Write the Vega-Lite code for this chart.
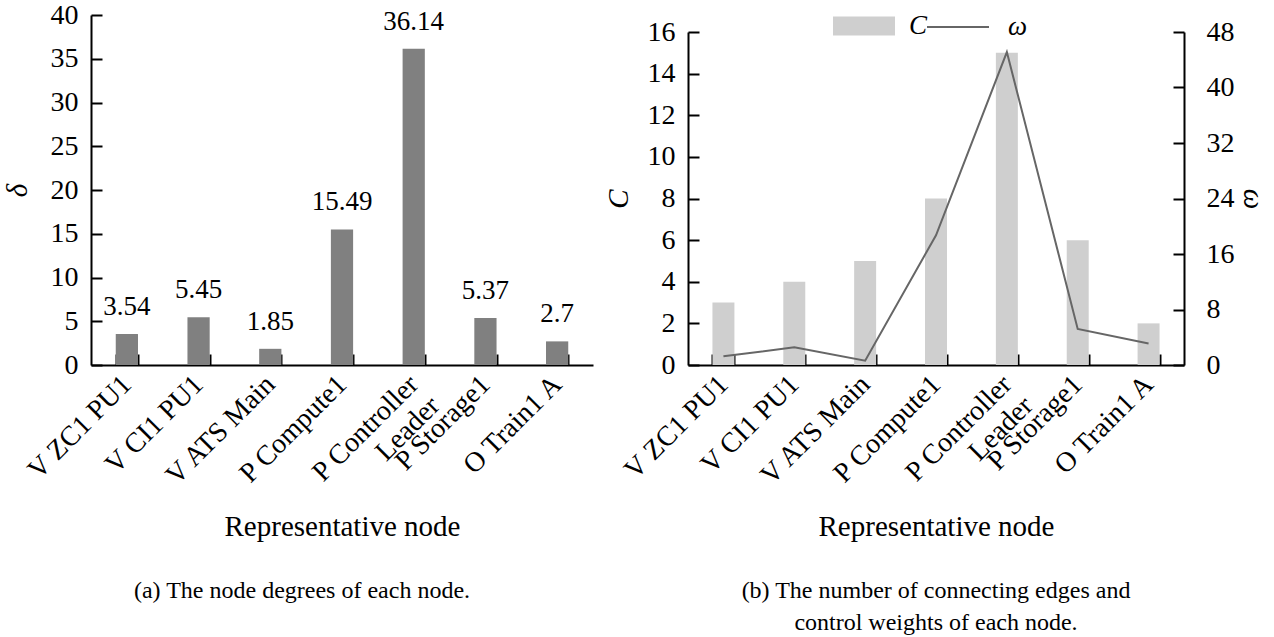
{
  "$schema": "https://vega.github.io/schema/vega-lite/v6.json",
  "background": "white",
  "padding": {"left": 3, "top": -5, "right": 0, "bottom": 0},
  "spacing": 11,
  "resolve": {"legend": {"fill": "independent", "stroke": "independent"}, "scale": {"fill": "independent", "stroke": "independent"}},
  "config": {
    "font": "Liberation Serif",
    "view": {"stroke": null},
    "axis": {
      "domainColor": "black", "domainWidth": 2, "tickColor": "black", "tickWidth": 2, "tickSize": -11,
      "labelFontSize": 28, "labelColor": "black", "titleFontSize": 29, "titleFontWeight": "normal",
      "titleColor": "black", "grid": false, "labelFont": "Liberation Serif", "titleFont": "Liberation Serif"
    },
    "title": {"font": "Liberation Serif", "fontSize": 24, "fontWeight": "normal", "color": "black"}
  },
  "hconcat": [
    {
      "width": 502, "height": 350,
      "title": {"text": "(a) The node degrees of each node.", "orient": "bottom", "offset": 38, "dx": -40},
      "data": {"values": [
        {"node": "V ZC1 PU1", "delta": 3.54},
        {"node": "V CI1 PU1", "delta": 5.45},
        {"node": "V ATS Main", "delta": 1.85},
        {"node": "P Compute1", "delta": 15.49},
        {"node": "P Controller Leader", "delta": 36.14},
        {"node": "P Storage1", "delta": 5.37},
        {"node": "O Train1 A", "delta": 2.7}
      ]},
      "encoding": {
        "x": {"field": "node", "type": "nominal", "sort": null,
          "scale": {"paddingInner": 0.69, "paddingOuter": 0.345},
          "axis": {"title": "Representative node", "labelAngle": -45, "labelAlign": "right", "labelBaseline": "middle",
            "labelPadding": 26, "tickBand": "extent", "titlePadding": 4,
            "labelExpr": "datum.label == 'P Controller Leader' ? ['P Controller', 'Leader\u00a0\u00a0\u00a0\u00a0\u00a0'] : datum.label"}},
        "y": {"field": "delta", "type": "quantitative",
          "scale": {"domain": [0, 40], "nice": false},
          "axis": {"title": "δ", "titleFontStyle": "italic", "values": [0, 5, 10, 15, 20, 25, 30, 35, 40], "labelPadding": 24, "titlePadding": 18}}
      },
      "layer": [
        {"mark": {"type": "bar", "color": "#808080"}},
        {"mark": {"type": "text", "dy": -19, "baseline": "alphabetic", "fontSize": 27, "color": "black"},
          "encoding": {"text": {"field": "delta", "type": "nominal"}}}
      ]
    },
    {
      "width": 496, "height": 350,
      "title": {"text": ["(b) The number of connecting edges and", "control weights of each node."], "orient": "bottom", "offset": 38, "lineHeight": 32},
      "data": {"values": [
        {"node": "V ZC1 PU1", "C": 3, "w": 1.25},
        {"node": "V CI1 PU1", "C": 4, "w": 2.55},
        {"node": "V ATS Main", "C": 5, "w": 0.62},
        {"node": "P Compute1", "C": 8, "w": 18.7},
        {"node": "P Controller Leader", "C": 15, "w": 45.1},
        {"node": "P Storage1", "C": 6, "w": 5.2},
        {"node": "O Train1 A", "C": 2, "w": 3.1}
      ]},
      "encoding": {
        "x": {"field": "node", "type": "nominal", "sort": null,
          "scale": {"paddingInner": 0.69, "paddingOuter": 0.345},
          "axis": {"title": "Representative node", "labelAngle": -45, "labelAlign": "right", "labelBaseline": "middle",
            "labelPadding": 26, "tickBand": "extent", "titlePadding": 4,
            "labelExpr": "datum.label == 'P Controller Leader' ? ['P Controller', 'Leader\u00a0\u00a0\u00a0\u00a0\u00a0'] : datum.label"}}
      },
      "layer": [
        {"mark": {"type": "bar"},
          "encoding": {
            "y": {"field": "C", "type": "quantitative",
              "scale": {"domain": [0, 16], "nice": false, "range": [350, 17]},
              "axis": {"title": "C", "titleFontStyle": "italic", "values": [0, 2, 4, 6, 8, 10, 12, 14, 16], "labelPadding": 24, "titlePadding": 14}},
            "fill": {"datum": "C", "scale": {"range": ["#cfcfcf"]},
              "legend": {"orient": "none", "legendX": 145, "legendY": -20, "title": null,
                "symbolType": "M-1,-0.31H1V0.31H-1Z", "symbolSize": 3844, "symbolStrokeWidth": 0,
                "labelFontSize": 27, "labelFontStyle": "italic", "labelFont": "Liberation Serif", "labelColor": "black", "labelOffset": 14}}
          }},
        {"mark": {"type": "line", "strokeWidth": 2},
          "encoding": {
            "y": {"field": "w", "type": "quantitative",
              "scale": {"domain": [0, 48], "nice": false, "range": [350, 17]},
              "axis": {"title": "ω", "titleFontStyle": "italic", "orient": "right", "values": [0, 8, 16, 24, 32, 40, 48], "labelPadding": 33, "titlePadding": 3}},
            "stroke": {"datum": "ω", "scale": {"range": ["#666666"]},
              "legend": {"orient": "none", "legendX": 238, "legendY": -20, "title": null,
                "symbolType": "M-1,0H1", "symbolSize": 3844, "symbolStrokeWidth": 2,
                "labelFontSize": 27, "labelFontStyle": "italic", "labelFont": "Liberation Serif", "labelColor": "black", "labelOffset": 18}}
          }}
      ],
      "resolve": {"scale": {"y": "independent"}}
    }
  ]
}
